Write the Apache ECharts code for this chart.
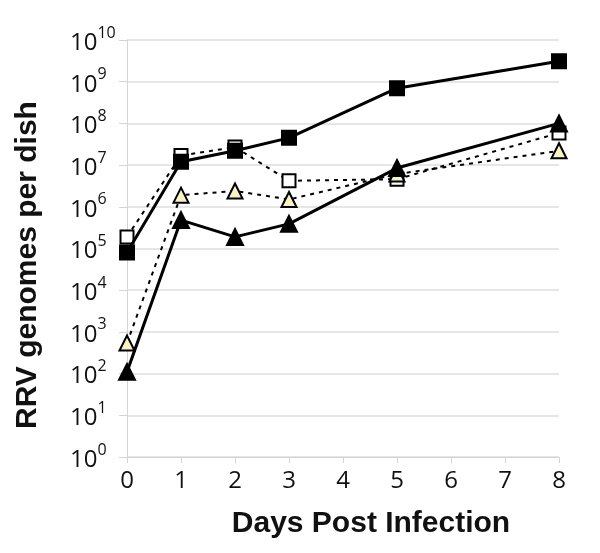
<!DOCTYPE html>
<html>
<head>
<meta charset="utf-8">
<script src="https://cdn.jsdelivr.net/npm/echarts@6/dist/echarts.min.js"></script>
<style>
  html, body { margin: 0; padding: 0; background: #fff; }
  #chart { width: 600px; height: 553px; }
</style>
</head>
<body>
<div id="chart"></div>
<script>
// days post infection
const days = [0, 1, 2, 3, 5, 8];
// genomes per dish
const filledSquares = [8e4, 1.2e7, 2.2e7, 4.5e7, 7e8, 3.1e9];
const openSquares = [1.9e5, 1.7e7, 2.7e7, 4.2e6, 4.6e6, 5.9e7];
const openTriangles = [540, 1.9e6, 2.4e6, 1.5e6, 6.1e6, 2.2e7];
const filledTriangles = [110, 4.8e5, 1.9e5, 3.9e5, 8.5e6, 1e8];

const myChart = echarts.init(document.getElementById('chart'));

function pairs(values) {
  return days.map(function (d, i) {
    return [d, values[i]];
  });
}

function makeSeries(name, values, symbol, fill, dashed, size) {
  return {
    name: name,
    type: 'line',
    data: pairs(values),
    symbol: symbol,
    symbolSize: size,
    showAllSymbol: true,
    z: dashed ? 2 : 3,
    lineStyle: {
      color: '#000',
      width: dashed ? 2 : 3,
      type: dashed ? [4, 5] : 'solid'
    },
    itemStyle: {
      color: fill,
      borderColor: '#000',
      borderWidth: 2,
      opacity: 1
    },
    emphasis: { disabled: true }
  };
}

const options = {
  animation: false,
  grid: {
    left: 127,
    right: 41,
    top: 40,
    bottom: 96
  },
  xAxis: {
    type: 'value',
    min: 0,
    max: 8,
    interval: 1,
    name: 'Days Post Infection',
    nameLocation: 'middle',
    nameGap: 52,
    nameTextStyle: {
      fontFamily: 'Liberation Sans',
      fontWeight: 'bold',
      fontSize: 30,
      color: '#111',
      padding: [0, 0, 0, 56]
    },
    axisLine: { lineStyle: { color: '#d4d4d4', width: 1 } },
    axisTick: { show: true, length: 6, lineStyle: { color: '#d4d4d4' } },
    axisLabel: {
      margin: 12,
      fontFamily: 'Open Sans',
      fontSize: 24,
      color: '#111'
    },
    splitLine: { show: false }
  },
  yAxis: {
    type: 'log',
    logBase: 10,
    min: 1,
    max: 1e10,
    interval: 1,
    splitNumber: 10,
    name: 'RRV genomes per dish',
    nameLocation: 'middle',
    nameGap: 84,
    nameTextStyle: {
      fontFamily: 'Liberation Sans',
      fontWeight: 'bold',
      fontSize: 30,
      color: '#111',
      padding: [0, 33, 0, 0]
    },
    axisLine: { show: true, lineStyle: { color: '#d4d4d4', width: 1 } },
    axisTick: { show: true, inside: false, length: 8, lineStyle: { color: '#d4d4d4' } },
    axisLabel: {
      margin: 57,
      align: 'left',
      formatter: function (v) {
        const exp = Math.round(Math.log10(v));
        return '{b|10}{s|' + exp + '}';
      },
      rich: {
        b: {
          fontFamily: 'Open Sans',
          fontSize: 24,
          color: '#111',
          padding: [6, 0, 0, 0]
        },
        s: {
          fontFamily: 'Open Sans',
          fontSize: 16,
          color: '#111',
          verticalAlign: 'top',
          padding: [0, 0, 12, 0]
        }
      }
    },
    splitLine: { show: true, lineStyle: { color: '#dedede', width: 1.5 } }
  },
  series: [
    makeSeries('open squares', openSquares, 'rect', '#fff', true, 13),
    makeSeries('open triangles', openTriangles, 'triangle', '#f7f3c4', true, 15),
    makeSeries('filled squares', filledSquares, 'rect', '#000', false, 14),
    makeSeries('filled triangles', filledTriangles, 'triangle', '#000', false, 16)
  ]
};

myChart.setOption(options);
</script>
</body>
</html>
